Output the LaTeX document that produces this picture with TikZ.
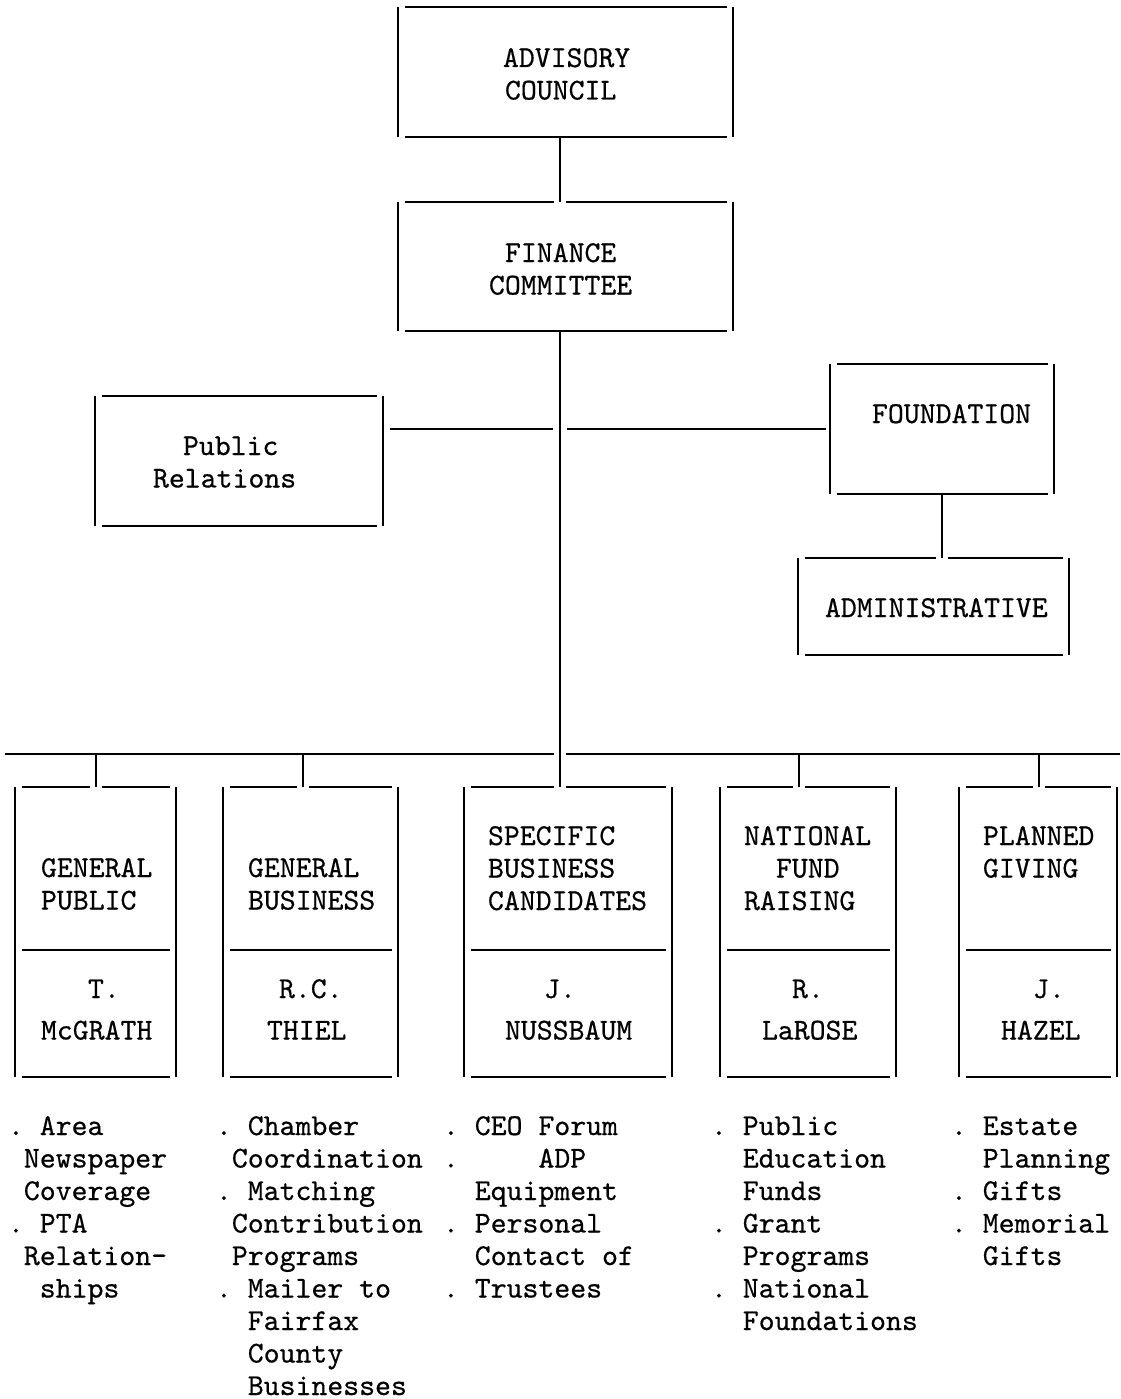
\documentclass[tikz,border=0pt]{standalone}
\usepackage{fontspec}
\usetikzlibrary{calc}
\newfontfamily\tw{lmmono10-regular.otf}[FakeBold=0.5]
\newcommand{\bl}{\phantom{0}}
\newcommand{\ind}[1]{\hspace*{#1pt}}
\newcommand{\tlines}[1]{\begin{tabular}[t]{@{}l@{}}#1\end{tabular}}
\tikzset{
  ln/.style={line width=1.8pt, line cap=butt},
  boxn/.style={draw=none, inner sep=0pt, outer sep=0pt, rectangle},
  txt/.style={inner sep=0pt, outer sep=0pt, anchor=base west,
              font=\fontsize{30.3}{32.5}\selectfont\tw\frenchspacing},
}
% typewriter-style box: full verticals, inset bottom line
\newcommand{\tbox}[1]{%
  \draw[ln] (#1.north west) -- (#1.south west);
  \draw[ln] (#1.north east) -- (#1.south east);
  \draw[ln] ($(#1.south west)+(7,0)$) -- ($(#1.south east)+(-6,0)$);}
\newcommand{\ttop}[1]{%
  \draw[ln] ($(#1.north west)+(7,0)$) -- ($(#1.north east)+(-6,0)$);}
\newcommand{\ttopgap}[2]{%
  \draw[ln] ($(#1.north west)+(7,0)$) -- ($(#1.north west -| #2)+(-6,0)$);
  \draw[ln] ($(#1.north west -| #2)+(6,0)$) -- ($(#1.north east)+(-6,0)$);}
\newcommand{\tdiv}[1]{%
  \draw[ln] ($(#1.north west |- dv)+(7,0)$) -- ($(#1.north east |- dv)+(-6,0)$);}
\begin{document}
\begin{tikzpicture}[x=1pt,y=-1pt]
\fill[white] (0,0) rectangle (1120,1399);
\useasboundingbox (0,0) rectangle (1120,1399);

% ---------- box nodes ----------
\node[boxn, minimum width=335, minimum height=130] (adv) at (565.5,72) {};
\node[boxn, minimum width=335, minimum height=129] (fin) at (565.5,266.5) {};
\node[boxn, minimum width=288, minimum height=130] (pr)  at (239,461) {};
\node[boxn, minimum width=224, minimum height=130] (fnd) at (942,429) {};
\node[boxn, minimum width=271, minimum height=97]  (adm) at (933.5,606.5) {};
\node[boxn, minimum width=161, minimum height=290] (c1) at (95.5,932) {};
\node[boxn, minimum width=175, minimum height=290] (c2) at (310.5,932) {};
\node[boxn, minimum width=208, minimum height=290] (c3) at (568,932) {};
\node[boxn, minimum width=176, minimum height=290] (c4) at (808,932) {};
\node[boxn, minimum width=158, minimum height=290] (c5) at (1038,932) {};

% ---------- helper coordinates ----------
\coordinate (sp) at (560,0);
\coordinate (dv) at (0,950);
\coordinate (busL) at (5,754);
\coordinate (busR) at (1120,754);
\coordinate (k1) at (96,754);
\coordinate (k2) at (303,754);
\coordinate (k4) at (799,754);
\coordinate (k5) at (1039,754);

% ---------- box outlines ----------
\tbox{adv} \ttop{adv}
\tbox{fin} \ttopgap{fin}{sp}
\tbox{pr}  \ttop{pr}
\tbox{fnd} \ttop{fnd}
\tbox{adm} \ttopgap{adm}{fnd.south}
\tbox{c1} \ttopgap{c1}{k1} \tdiv{c1}
\tbox{c2} \ttopgap{c2}{k2} \tdiv{c2}
\tbox{c3} \ttopgap{c3}{sp} \tdiv{c3}
\tbox{c4} \ttopgap{c4}{k4} \tdiv{c4}
\tbox{c5} \ttopgap{c5}{k5} \tdiv{c5}

% ---------- connectors ----------
\draw[ln] (adv.south -| sp) -- (fin.north -| sp);
\draw[ln] (fin.south -| sp) -- (c3.north -| sp);
\draw[ln] ($(pr.east |- fnd.west)+(7,0)$) -- ($(sp |- fnd.west)+(-7,0)$);
\draw[ln] ($(sp |- fnd.west)+(7,0)$) -- ($(fnd.west)+(-4,0)$);
\draw[ln] (fnd.south) -- (adm.north -| fnd.south);
\draw[ln] (busL) -- ($(busL -| sp)+(-6,0)$);
\draw[ln] ($(busL -| sp)+(6,0)$) -- (busR);
\draw[ln] (k1) -- (c1.north -| k1);
\draw[ln] (k2) -- (c2.north -| k2);
\draw[ln] (k4) -- (c4.north -| k4);
\draw[ln] (k5) -- (c5.north -| k5);

% ---------- box texts ----------
\node[txt] (tadv) at (503,67) {\tlines{ADVISORY\\\ind{2}COUNCIL}};
\node[txt] (tfin) at (489,262) {\tlines{\ind{16}FINANCE\\COMMITTEE}};
\node[txt] (tpr)  at (153,455) {\tlines{\ind{30}Public\\Relations}};
\node[txt] (tfnd) at (872,423) {FOUNDATION};
\node[txt] (tadm) at (825,617) {ADMINISTRATIVE};

\node[txt] (h1) at (41,877)  {\tlines{GENERAL\\PUBLIC}};
\node[txt] (h2) at (248,877) {\tlines{GENERAL\\BUSINESS}};
\node[txt] (h3) at (488,845) {\tlines{SPECIFIC\\BUSINESS\\CANDIDATES}};
\node[txt] (h4) at (744,845) {\tlines{NATIONAL\\\ind{32}FUND\\RAISING}};
\node[txt] (h5) at (983,845) {\tlines{PLANNED\\GIVING}};

\node[txt] (n1) at (41,998)   {\tlines{\ind{47}T.\\[9pt]McGRATH}};
\node[txt] (n2) at (267,998)  {\tlines{\ind{12}R.C.\\[9pt]THIEL}};
\node[txt] (n3) at (505,998)  {\tlines{\ind{39}J.\\[9pt]NUSSBAUM}};
\node[txt] (n4) at (762,998)  {\tlines{\ind{30}R.\\[9pt]LaROSE}};
\node[txt] (n5) at (1001,998) {\tlines{\ind{32}J.\\[9pt]HAZEL}};

% ---------- bullet lists ----------
\node[txt] (l1) at (8,1135) {\tlines{%
. Area\\
\bl Newspaper\\
\bl Coverage\\
. PTA\\
\bl Relation-\\
\bl\bl ships}};
\node[txt] (l2) at (216,1135) {\tlines{%
. Chamber\\
\bl Coordination\\
. Matching\\
\bl Contribution\\
\bl Programs\\
. Mailer to\\
\bl\bl Fairfax\\
\bl\bl County\\
\bl\bl Businesses}};
\node[txt] (l3) at (443,1135) {\tlines{%
. CEO Forum\\
.\bl\bl\bl\bl\bl ADP\\
\bl\bl Equipment\\
. Personal\\
\bl\bl Contact of\\
. Trustees}};
\node[txt] (l4) at (711,1135) {\tlines{%
. Public\\
\bl\bl Education\\
\bl\bl Funds\\
. Grant\\
\bl\bl Programs\\
. National\\
\bl\bl Foundations}};
\node[txt] (l5) at (951,1135) {\tlines{%
. Estate\\
\bl\bl Planning\\
. Gifts\\
. Memorial\\
\bl\bl Gifts}};
\end{tikzpicture}
\end{document}
